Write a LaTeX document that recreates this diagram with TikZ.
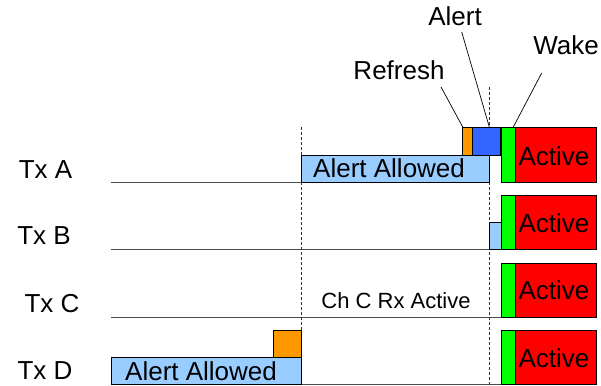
\documentclass[tikz,border=0pt]{standalone}
\usepackage{fontspec}
\setmainfont{Liberation Sans}
\begin{document}
\begin{tikzpicture}[x=1pt,y=-1pt,
  lbl/.style={font=\fontsize{26}{28}\selectfont, inner sep=0pt, anchor=base},
  small/.style={font=\fontsize{22}{24}\selectfont, inner sep=0pt, anchor=base},
  slot/.style={draw=black, line width=0.8pt, inner sep=0pt, anchor=south west, outer sep=0pt},
  baseline/.style={draw=black!70, line width=0.9pt},
  guide/.style={draw=black!80, dashed, dash pattern=on 3pt off 2pt, line width=0.7pt},
  leader/.style={draw=black, line width=0.7pt},
  allowed/.style={slot, fill=cyan!20!blue!40!white},
  refr/.style={slot, fill=orange!90!yellow},
  alrt/.style={slot, fill=blue!60!cyan!80!white},
  wake/.style={slot, fill=green},
  act/.style={slot, fill=red}
]
\definecolor{lblue}{HTML}{99CCFF}
\definecolor{orng}{HTML}{FF9900}
\definecolor{ablue}{HTML}{3366FF}
\definecolor{wgreen}{HTML}{00FF00}
\definecolor{ared}{HTML}{FF0000}
\tikzset{
  allowed/.style={slot, fill=lblue},
  refr/.style={slot, fill=orng},
  alrt/.style={slot, fill=ablue},
  wake/.style={slot, fill=wgreen},
  act/.style={slot, fill=ared}
}
\useasboundingbox (0,0) rectangle (601,385);

% channel time lines
\coordinate (la0) at (111,182); \coordinate (la1) at (301,182);
\coordinate (lb0) at (111,249.5); \coordinate (lb1) at (596,249.5);
\coordinate (lc0) at (111,317); \coordinate (lc1) at (596,317);
\coordinate (ld0) at (111,384); \coordinate (ld1) at (596,384);
\draw[baseline] (la0) -- (la1);
\draw[baseline] (lb0) -- (lb1);
\draw[baseline] (lc0) -- (lc1);
\draw[baseline] (ld0) -- (ld1);

% vertical markers
\coordinate (g1t) at (301,127); \coordinate (g1b) at (301,385);
\coordinate (g2t) at (489,87);  \coordinate (g2b) at (489,385);
\draw[guide] (g1t) -- (g1b);
\draw[guide] (g2t) -- (g2b);

% channel names
\node[lbl] (txa) at (45.5,178) {Tx A};
\node[lbl] (txb) at (44,244) {Tx B};
\node[lbl] (txc) at (52,312.5) {Tx C};
\node[lbl] (txd) at (45,379) {Tx D};

% Tx A
\node[allowed, minimum width=188pt, minimum height=27pt] (aaA) at (301,182) {};
\node[lbl, anchor=base west] (aaAt) at (313,177) {Alert Allowed};
\node[refr, minimum width=10pt, minimum height=28pt] (refA) at (462.7,155) {};
\node[alrt, minimum width=28pt, minimum height=28pt] (alA) at (472.7,155) {};
\node[wake, minimum width=13.3pt, minimum height=55pt] (wkA) at (501.7,182) {};
\node[act, minimum width=81pt, minimum height=55pt] (acA) at (515,182) {};
\node[lbl] (acAt) at (554,165) {Active};

% Tx B
\node[allowed, minimum width=12pt, minimum height=26.8pt] (aaB) at (489.5,249.5) {};
\node[wake, minimum width=13.3pt, minimum height=54.5pt] (wkB) at (501.7,249.5) {};
\node[act, minimum width=81pt, minimum height=54.5pt] (acB) at (515,249.5) {};
\node[lbl] (acBt) at (554,232) {Active};

% Tx C
\node[small] (rxC) at (396,308) {Ch C Rx Active};
\node[wake, minimum width=13.3pt, minimum height=54pt] (wkC) at (501.7,317) {};
\node[act, minimum width=81pt, minimum height=54pt] (acC) at (515,317) {};
\node[lbl] (acCt) at (554,299.5) {Active};

% Tx D
\node[allowed, minimum width=190pt, minimum height=27pt] (aaD) at (111,384) {};
\node[lbl, anchor=base west] (aaDt) at (125,380) {Alert Allowed};
\node[refr, minimum width=28pt, minimum height=26.5pt] (refD) at (273,357) {};
\node[wake, minimum width=13.3pt, minimum height=53.3pt] (wkD) at (501.7,384) {};
\node[act, minimum width=81pt, minimum height=53.3pt] (acD) at (515,384) {};
\node[lbl] (acDt) at (554,367) {Active};

% callouts
\node[lbl] (lref) at (399,80) {Refresh};
\node[lbl] (lalt) at (455,26) {Alert};
\node[lbl] (lwak) at (566,55) {Wake};
\coordinate (pref) at (441,87);
\coordinate (palt) at (461.7,32);
\coordinate (pwak) at (541.7,73);
\coordinate (qalt) at (489.3,127);
\coordinate (qwak) at (513.3,127);
\draw[leader] (pref) -- (refA.north west);
\draw[leader] (palt) -- (qalt);
\draw[leader] (pwak) -- (qwak);
\end{tikzpicture}
\end{document}
